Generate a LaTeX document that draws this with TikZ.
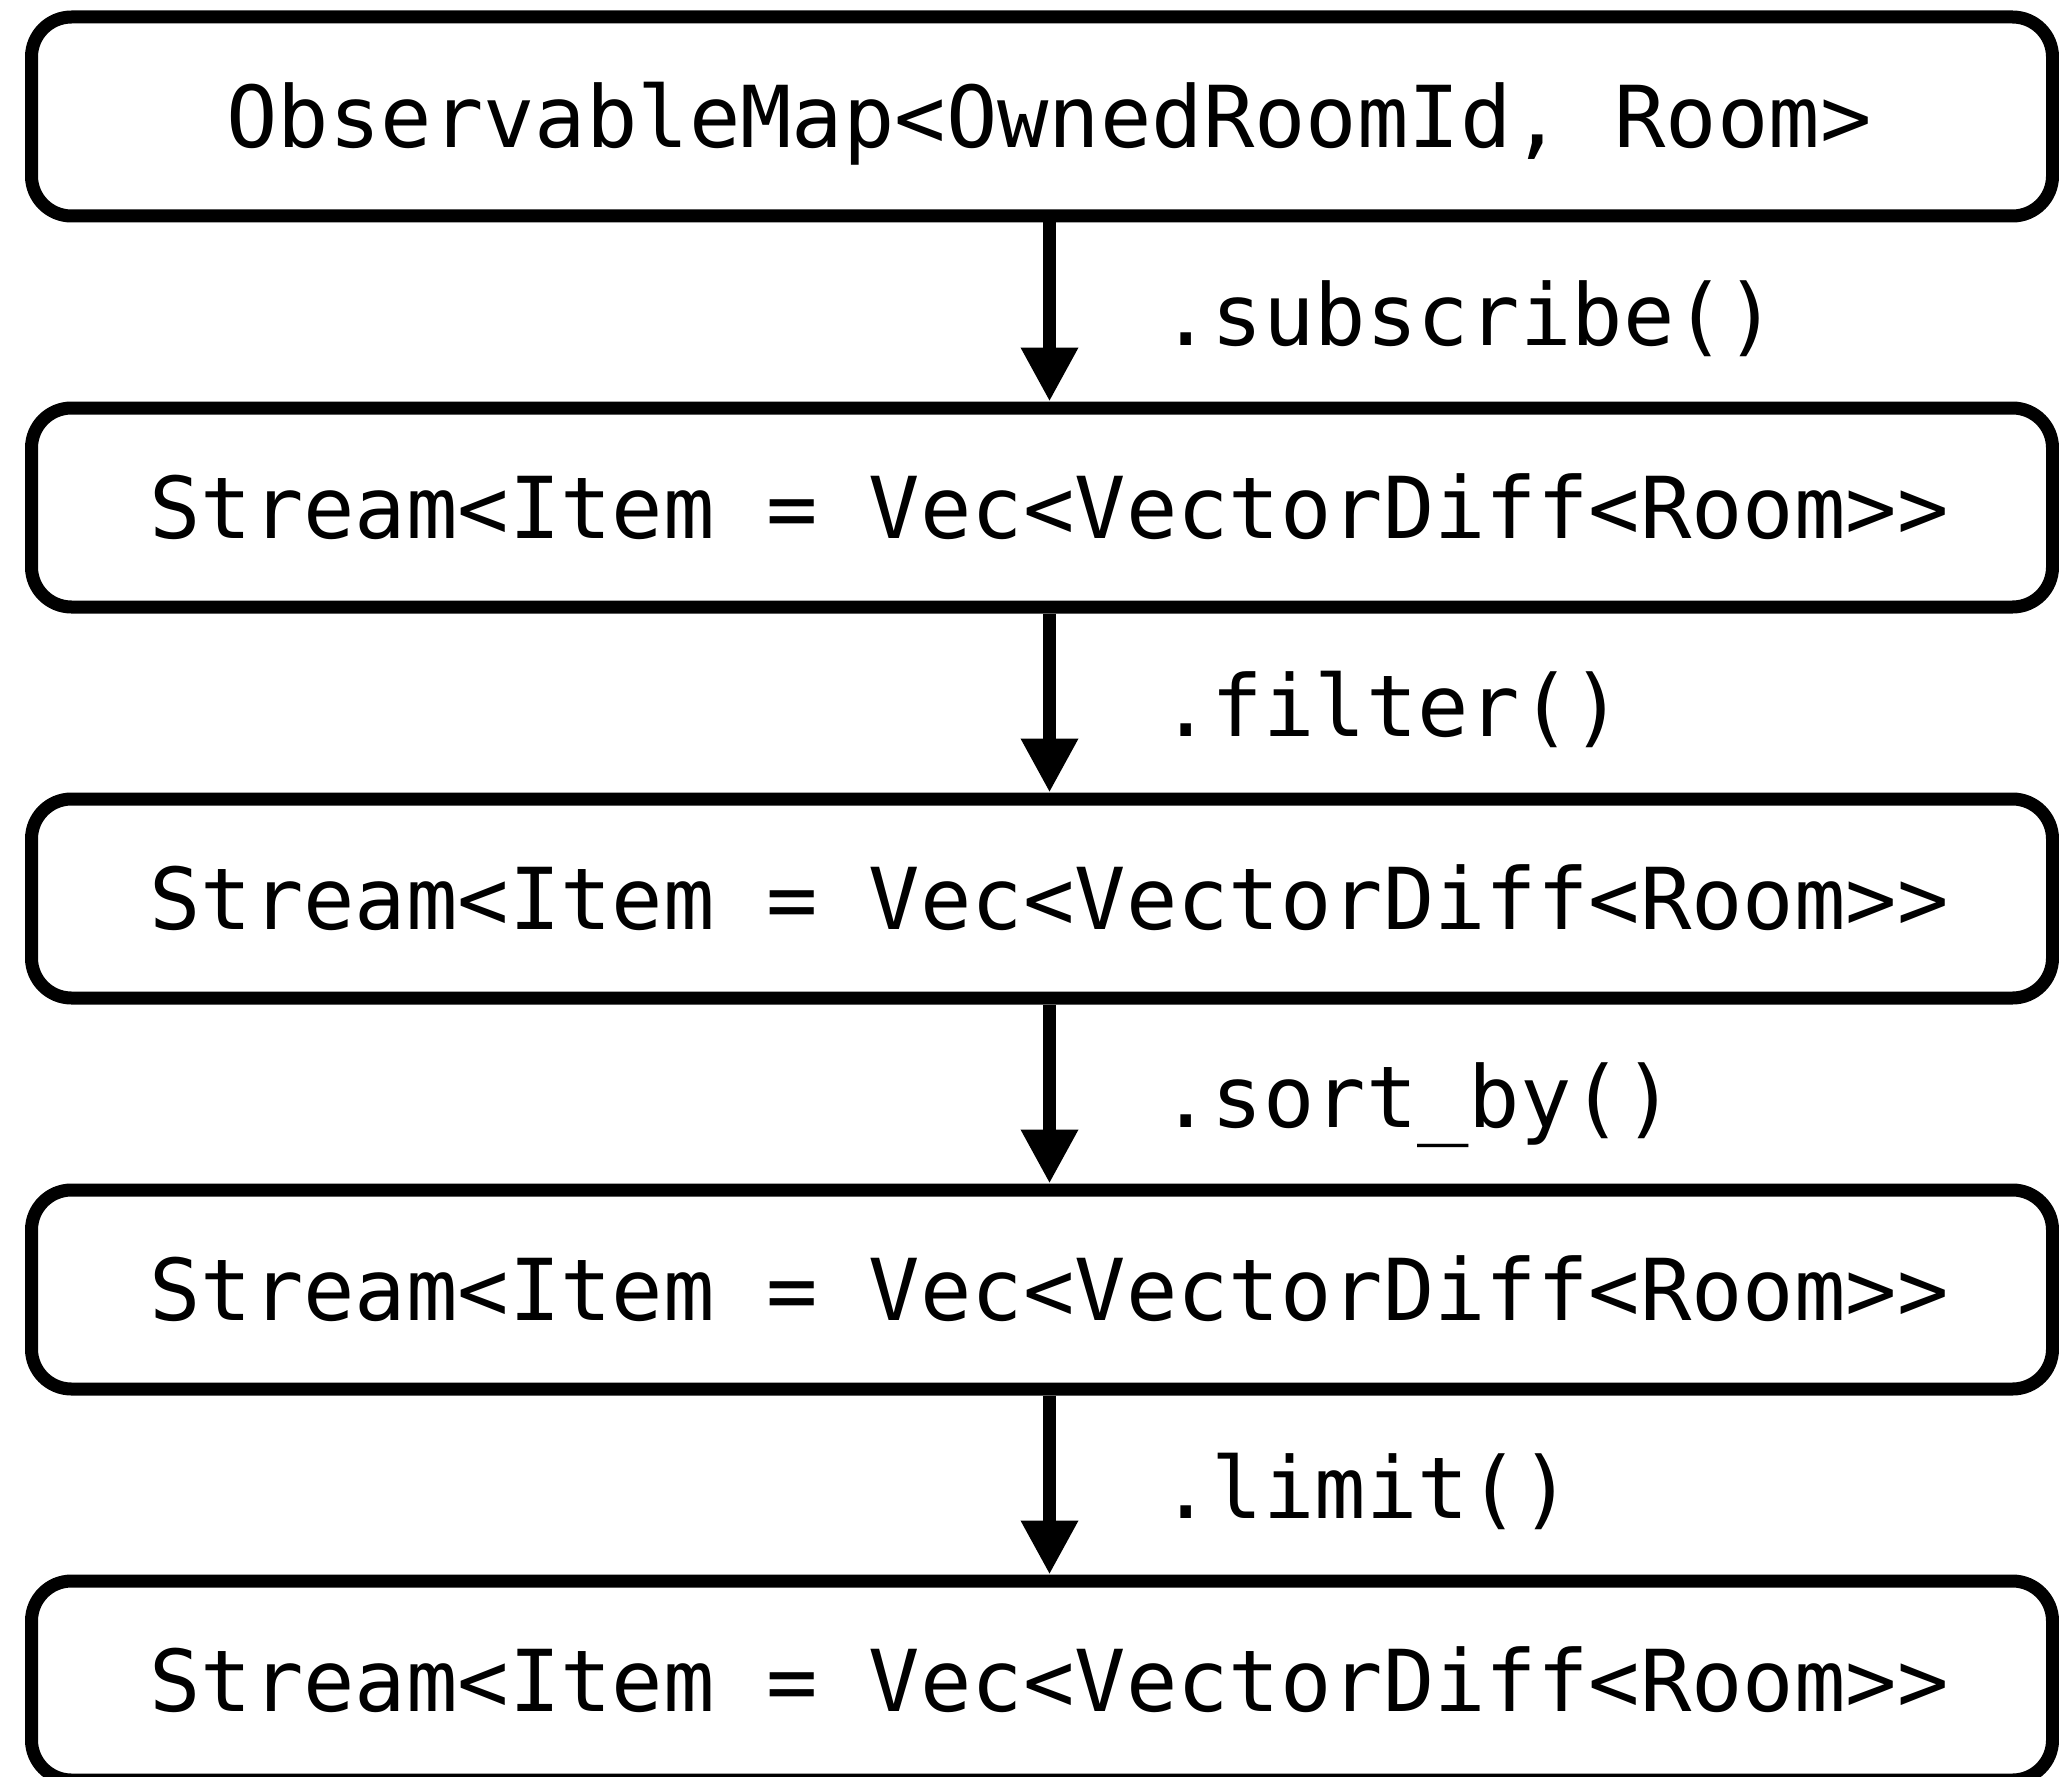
\documentclass[tikz,border=0pt]{standalone}
\usepackage{fontspec}
\setmonofont{DejaVu Sans Mono}
\usetikzlibrary{arrows.meta}
\begin{document}
\begin{tikzpicture}[x=0.5pt,y=-0.5pt,
  box/.style={draw, line width=6.5pt, rounded corners=20pt,
    minimum width=1010.5pt, minimum height=99.5pt, inner sep=0pt,
    text height=31pt, text depth=0pt,
    font=\fontsize{42.7}{50}\selectfont\ttfamily},
  lbl/.style={anchor=base west, inner sep=0pt,
    font=\fontsize{42.7}{50}\selectfont\ttfamily},
  flow/.style={line width=6.5pt, -{Triangle[length=27pt,width=27pt]}}]
\useasboundingbox (0,0) rectangle (2059,1776);
\node[box] (b1) at (1042,116.5) {\hspace*{7pt}ObservableMap<OwnedRoomId, Room>};
\node[box] (b2) at (1042,507.5) {\hspace*{7pt}Stream<Item = Vec<VectorDiff<Room>>};
\node[box] (b3) at (1042,898.5) {\hspace*{7pt}Stream<Item = Vec<VectorDiff<Room>>};
\node[box] (b4) at (1042,1289.5) {\hspace*{7pt}Stream<Item = Vec<VectorDiff<Room>>};
\node[box] (b5) at (1042,1680.5) {\hspace*{7pt}Stream<Item = Vec<VectorDiff<Room>>};
\draw[flow] ([xshift=3.75pt]b1.south) -- ([xshift=3.75pt]b2.north);
\draw[flow] ([xshift=3.75pt]b2.south) -- ([xshift=3.75pt]b3.north);
\draw[flow] ([xshift=3.75pt]b3.south) -- ([xshift=3.75pt]b4.north);
\draw[flow] ([xshift=3.75pt]b4.south) -- ([xshift=3.75pt]b5.north);
\node[lbl] (l1) at (1160,345) {.subscribe()};
\node[lbl] (l2) at (1160,736) {.filter()};
\node[lbl] (l3) at (1160,1127) {.sort\_by()};
\node[lbl] (l4) at (1160,1518) {.limit()};
\end{tikzpicture}
\end{document}
